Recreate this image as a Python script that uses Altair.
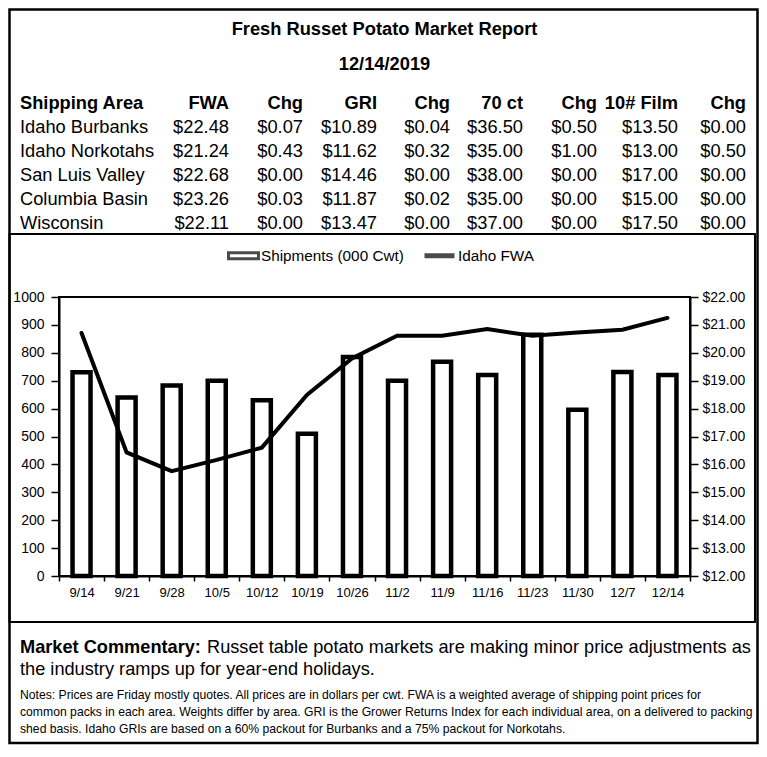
import altair as alt
import pandas as pd

# ---------------- data ----------------
TITLE = "Fresh Russet Potato Market Report"
REPORT_DATE = "12/14/2019"

headers = ["Shipping Area", "FWA", "Chg", "GRI", "Chg", "70 ct", "Chg", "10# Film", "Chg"]
areas = ["Idaho Burbanks", "Idaho Norkotahs", "San Luis Valley", "Columbia Basin", "Wisconsin"]
fwa = [22.48, 21.24, 22.68, 23.26, 22.11]
fwa_chg = [0.07, 0.43, 0.00, 0.03, 0.00]
gri = [10.89, 11.62, 14.46, 11.87, 13.47]
gri_chg = [0.04, 0.32, 0.00, 0.02, 0.00]
ct70 = [36.50, 35.00, 38.00, 35.00, 37.00]
ct70_chg = [0.50, 1.00, 0.00, 0.00, 0.00]
film = [13.50, 13.00, 17.00, 15.00, 17.50]
film_chg = [0.00, 0.50, 0.00, 0.00, 0.00]

weeks = ["9/14", "9/21", "9/28", "10/5", "10/12", "10/19", "10/26",
         "11/2", "11/9", "11/16", "11/23", "11/30", "12/7", "12/14"]
shipments = [730, 640, 683, 700, 630, 510, 785, 700, 768, 720, 865, 596, 731, 720]
idaho_fwa = [20.71, 16.43, 15.76, 16.16, 16.60, 18.49, 19.80,
             20.61, 20.61, 20.85, 20.61, 20.73, 20.83, 21.25]

series_names = ["Shipments (000 Cwt)", "Idaho FWA"]

commentary_label = "Market Commentary:"
commentary_lines = [
    "Russet table potato markets are making minor price adjustments as",
    "the industry ramps up for year-end holidays.",
]
notes_lines = [
    "Notes: Prices are Friday mostly quotes. All prices are in dollars per cwt. FWA is a weighted average of shipping point prices for",
    "common packs in each area. Weights differ by area. GRI is the Grower Returns Index for each individual area, on a delivered to packing",
    "shed basis. Idaho GRIs are based on a 60% packout for Burbanks and a 75% packout for Norkotahs.",
]

# ---------------- layout (pixels, relative to plot origin) ----------------
W, H = 631, 279
FONT = "Liberation Sans"
col_px = [-39, 170, 244, 318, 391, 464, 538, 619, 687]
row_px = [-188, -68.5]

# ---------------- tables ----------------
recs = []
for c, h in enumerate(headers):
    recs.append({"row": 0, "col": c, "txt": h})
value_cols = [fwa, fwa_chg, gri, gri_chg, ct70, ct70_chg, film, film_chg]
for r, a in enumerate(areas):
    recs.append({"row": r + 1, "col": 0, "txt": a})
    for c, vals in enumerate(value_cols):
        recs.append({"row": r + 1, "col": c + 1, "txt": f"${vals[r]:.2f}"})
table_df = pd.DataFrame(recs)

chart_df = pd.DataFrame({"week": weeks, "shipments": shipments, "fwa": idaho_fwa})
legend_df = pd.DataFrame({"series": series_names})

# ---------------- chart ----------------
rect_sym = "M-1,-0.2H1V0.2H-1Z"
line_sym = "M-1,0H1"
legend = alt.Legend(
    orient="none", legendX=168, legendY=-59, direction="horizontal", title=None,
    padding=0, labelFontSize=15.3, labelColor="black", labelOffset=1, columnPadding=10,
    symbolSize=900, symbolStrokeColor="black",
)

x_enc = alt.X("week:N", sort=weeks,
              scale=alt.Scale(paddingInner=0, paddingOuter=0),
              axis=alt.Axis(title=None, labelAngle=0, tickBand="extent", tickSize=5,
                            tickWidth=1.5, tickColor="black", domainColor="black",
                            domainWidth=2, labelFontSize=13, labelColor="black",
                            labelPadding=5, grid=False))

bars = alt.Chart(chart_df).mark_bar(fill="white", stroke="black", strokeWidth=4.5,
                                    size=18, strokeJoin="miter").encode(
    x=x_enc,
    y=alt.Y("shipments:Q", scale=alt.Scale(domain=[0, 1000], nice=False),
            axis=alt.Axis(title=None, values=list(range(0, 1001, 100)), format="d",
                          tickSize=8, tickWidth=1.5, tickColor="black",
                          domainColor="black", domainWidth=2, labelFontSize=14,
                          labelColor="black", labelPadding=7, grid=False)),
)

line = alt.Chart(chart_df).mark_line(stroke="black", strokeWidth=4, strokeCap="round").encode(
    x=alt.X("week:N", sort=weeks),
    y=alt.Y("fwa:Q", scale=alt.Scale(domain=[12, 22], nice=False, zero=False),
            axis=alt.Axis(title=None, orient="right", format="$.2f",
                          values=list(range(12, 23)), tickSize=8, tickWidth=1.5,
                          tickColor="black", domainColor="black", domainWidth=2,
                          labelFontSize=14, labelColor="black", labelPadding=4,
                          grid=False)),
)

core = alt.layer(bars, line).resolve_scale(y="independent")

# legend driven by the two series names (symbols drawn only in the legend)
legend_layer = alt.Chart(legend_df).mark_point(
    filled=False, color="black", size=900, strokeCap="round"
).encode(
    x=alt.value(-3000), y=alt.value(-3000),
    shape=alt.Shape("series:N", scale=alt.Scale(domain=series_names, range=[rect_sym, line_sym]),
                    legend=legend),
    strokeWidth=alt.StrokeWidth("series:N", scale=alt.Scale(domain=series_names, range=[3, 5]),
                                legend=legend),
)

tbl = alt.Chart(table_df).encode(
    x=alt.X("col:Q", scale=alt.Scale(domain=list(range(9)), range=col_px, nice=False, zero=False), axis=None),
    y=alt.Y("row:Q", scale=alt.Scale(domain=[0, 5], range=row_px, nice=False, zero=False), axis=None),
    text="txt:N",
)
tkw = dict(baseline="alphabetic", fontSize=18.3, color="black")
hdr_left = tbl.transform_filter("datum.row == 0 && datum.col == 0").mark_text(align="left", fontWeight="bold", **tkw)
hdr_right = tbl.transform_filter("datum.row == 0 && datum.col > 0").mark_text(align="right", fontWeight="bold", **tkw)
body_left = tbl.transform_filter("datum.row > 0 && datum.col == 0").mark_text(align="left", **tkw)
body_right = tbl.transform_filter("datum.row > 0 && datum.col > 0").mark_text(align="right", **tkw)
table = alt.layer(hdr_left, hdr_right, body_left, body_right)


def text_layer(s, x, y, **kw):
    return alt.Chart(pd.DataFrame({"t": [s]})).mark_text(
        baseline="alphabetic", color="black", **kw
    ).encode(x=alt.value(x), y=alt.value(y), text="t:N")


def frame(x1, x2, y1, y2, sw):
    return alt.Chart(pd.DataFrame({"a": [0]})).mark_rect(
        filled=False, stroke="black", strokeWidth=sw
    ).encode(x=alt.value(x1), x2=alt.value(x2), y=alt.value(y1), y2=alt.value(y2))


texts = [
    text_layer(TITLE, 325.5, -262.5, align="center", fontSize=18.3, fontWeight="bold"),
    text_layer(REPORT_DATE, 325.5, -227.5, align="center", fontSize=18.3, fontWeight="bold"),
    text_layer(commentary_label, -39, 355.5, align="left", fontSize=18.2, fontWeight="bold"),
    text_layer(commentary_lines[0], 148, 355.5, align="left", fontSize=18.2),
    text_layer(commentary_lines[1], -39, 377.5, align="left", fontSize=18.2),
    text_layer(notes_lines[0], -39, 401.5, align="left", fontSize=12.2),
    text_layer(notes_lines[1], -39, 418.5, align="left", fontSize=12.2),
    text_layer(notes_lines[2], -39, 435.5, align="left", fontSize=12.2),
]

frames = [
    frame(-49.5, 698.5, -287.5, 446, 2.5),
    frame(-49.5, 696, -63, 325, 2),
]

chart = alt.layer(core, legend_layer, table, *texts, *frames).resolve_scale(
    x="independent", y="independent"
).properties(
    width=W, height=H,
    padding={"left": 51, "top": 289, "right": 69, "bottom": 169},
    autosize=alt.AutoSizeParams(type="none"),
).configure(font=FONT).configure_view(stroke="black", strokeWidth=2)

chart.save("out.html", embed_options={"renderer": "svg", "actions": False})
